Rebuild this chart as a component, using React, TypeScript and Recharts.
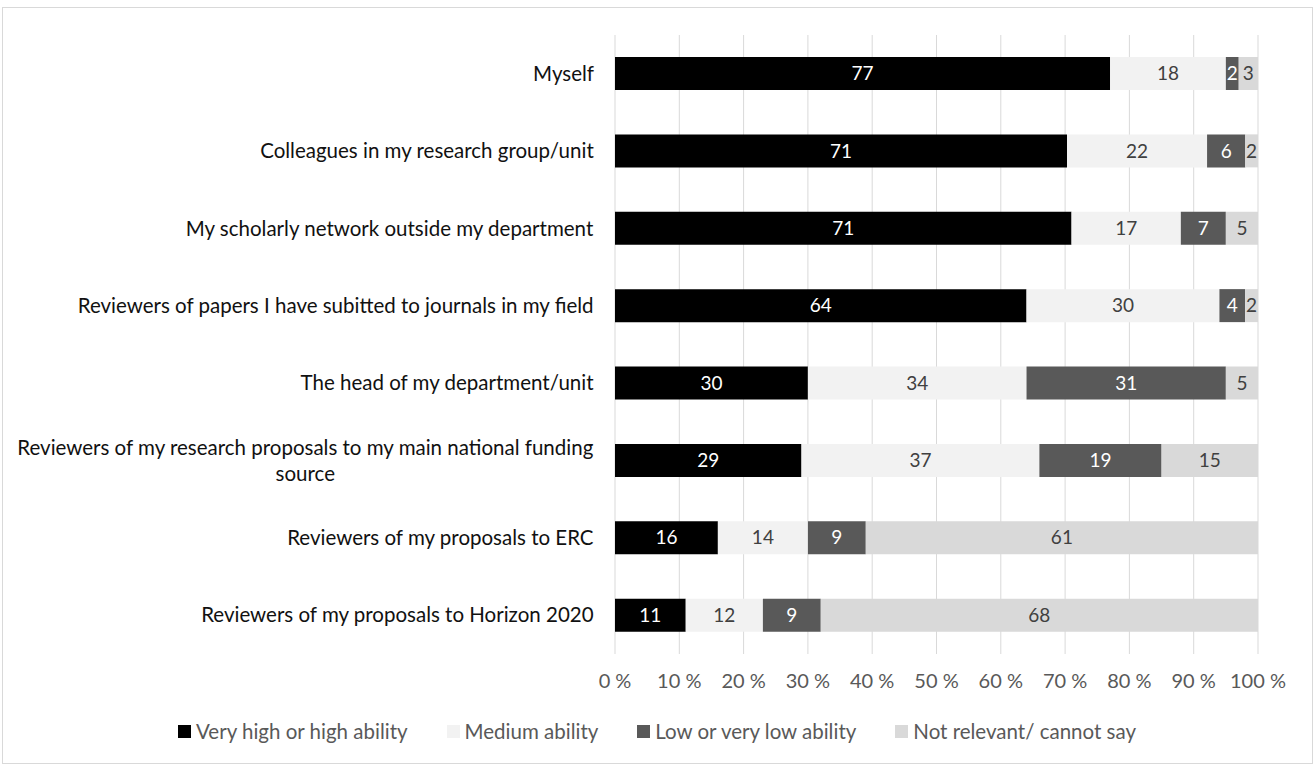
import { Bar, BarChart, XAxis, YAxis, CartesianGrid, Legend, LabelList } from "recharts";

const categories = [
    "Myself",
    "Colleagues in my research group/unit",
    "My scholarly network outside my department",
    "Reviewers of papers I have subitted to journals in my field",
    "The head of my department/unit",
    "Reviewers of my research proposals to my main national funding source",
    "Reviewers of my proposals to ERC",
    "Reviewers of my proposals to Horizon 2020",
];

const veryHigh = [77, 71, 71, 64, 30, 29, 16, 11];
const medium = [18, 22, 17, 30, 34, 37, 14, 12];
const low = [2, 6, 7, 4, 31, 19, 9, 9];
const notRelevant = [3, 2, 5, 2, 5, 15, 61, 68];

const xTicks = [0, 0.1, 0.2, 0.3, 0.4, 0.5, 0.6, 0.7, 0.8, 0.9, 1];

const series = [
    { key: "veryHigh", name: "Very high or high ability", fill: "#000000", text: "#ffffff" },
    { key: "medium", name: "Medium ability", fill: "#f2f2f2", text: "#404040" },
    { key: "low", name: "Low or very low ability", fill: "#595959", text: "#ffffff" },
    { key: "notRelevant", name: "Not relevant/ cannot say", fill: "#d9d9d9", text: "#404040" },
];

const data = categories.map((name, i) => ({
    name,
    veryHigh: veryHigh[i],
    medium: medium[i],
    low: low[i],
    notRelevant: notRelevant[i],
}));

const FONT = "Lato, 'Open Sans', sans-serif";
const LABEL_SIZE = 20.5;

let ctx: CanvasRenderingContext2D | null = null;
function measure(text: string) {
    if (!ctx) ctx = document.createElement("canvas").getContext("2d");
    if (!ctx) return text.length * 9.5;
    ctx.font = `${LABEL_SIZE}px Lato`;
    return ctx.measureText(text).width;
}

function wrap(text: string, maxW: number) {
    const words = text.split(" ");
    const lines: string[] = [];
    let cur = "";
    words.forEach((w) => {
        const next = cur ? cur + " " + w : w;
        if (measure(next) > maxW && cur) {
            lines.push(cur);
            cur = w;
        } else cur = next;
    });
    if (cur) lines.push(cur);
    return lines;
}

function CategoryTick({ x, y, payload }: any) {
    const lines = wrap(payload.value, 586);
    const widths = lines.map(measure);
    const maxW = Math.max(...widths);
    const cx = x - maxW / 2;
    const lh = 26;
    const startY = y - ((lines.length - 1) * lh) / 2;
    return (
        <g>
            {lines.map((l, i) => (
                <text
                    key={i}
                    x={cx}
                    y={startY + i * lh}
                    dy="0.35em"
                    textAnchor="middle"
                    fontFamily={FONT}
                    fontSize={LABEL_SIZE}
                    fill="#111111"
                >
                    {l}
                </text>
            ))}
        </g>
    );
}

function LegendContent() {
    return (
        <div style={{ display: "flex", justifyContent: "center", gap: 39, fontFamily: FONT, fontSize: 20.5, color: "#595959" }}>
            {series.map((s) => (
                <div key={s.key} style={{ display: "flex", alignItems: "center", gap: 5 }}>
                    <span style={{ width: 13, height: 13, background: s.fill, display: "inline-block" }} />
                    <span>{s.name}</span>
                </div>
            ))}
        </div>
    );
}

export default function App() {
    return (
        <div style={{ position: "absolute", left: 0, top: 0, width: 1314, height: 765, background: "#fff" }}>
            <div style={{ position: "absolute", left: 2, top: 7, width: 1309, height: 755, border: "1px solid #d9d9d9" }} />
            <BarChart
                width={1314}
                height={765}
                data={data}
                layout="vertical"
                stackOffset="expand"
                margin={{ top: 35, right: 56, left: 0, bottom: 25 }}
                barSize={33}
            >
                <CartesianGrid horizontal={false} stroke="#d9d9d9" strokeWidth={1} />
                <XAxis
                    type="number"
                    domain={[0, 1]}
                    ticks={xTicks}
                    tickFormatter={(v: number) => `${Math.round(v * 100)} %`}
                    axisLine={false}
                    tickLine={false}
                    tick={{ fontSize: 20, fill: "#595959", fontFamily: FONT }}
                    tickMargin={14}
                    height={62}
                />
                <YAxis
                    dataKey="name"
                    type="category"
                    width={615}
                    axisLine={false}
                    tickLine={false}
                    tick={(props: any) => <CategoryTick {...props} x={594} />}
                    interval={0}
                />
                <Legend
                    verticalAlign="bottom"
                    content={LegendContent}
                    wrapperStyle={{ left: 0, width: 1314, bottom: 22 }}
                />
                {series.map((s) => (
                    <Bar key={s.key} dataKey={s.key} name={s.name} stackId="a" fill={s.fill} isAnimationActive={false}>
                        <LabelList
                            dataKey={s.key}
                            position="center"
                            fill={s.text}
                            fontSize={19}
                            fontFamily={FONT}
                        />
                    </Bar>
                ))}
            </BarChart>
        </div>
    );
}
